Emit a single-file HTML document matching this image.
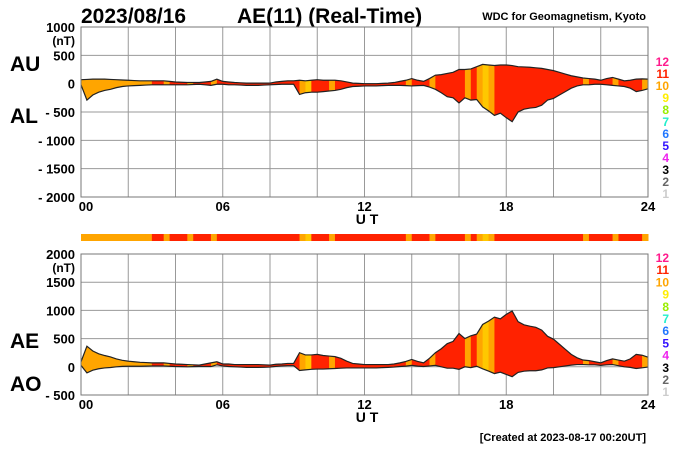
<!DOCTYPE html>
<html><head><meta charset="utf-8"><style>
body{margin:0;background:#fff}
svg{display:block;font-family:"Liberation Sans",Arial,sans-serif;font-weight:bold}
</style></head><body>
<svg id="c" width="700" height="450" viewBox="0 0 700 450">
<text x="81" y="23" font-size="21">2023/08/16</text>
<text x="237" y="23" font-size="21">AE(11) (Real-Time)</text>
<text x="646" y="20" font-size="11" text-anchor="end">WDC for Geomagnetism, Kyoto</text>
<text x="10" y="71" font-size="21">AU</text>
<text x="10" y="123" font-size="21">AL</text>
<text x="10" y="348" font-size="21">AE</text>
<text x="10" y="391" font-size="21">AO</text>
<text x="646" y="441" font-size="11" text-anchor="end">[Created at 2023-08-17 00:20UT]</text>
<g id="g"></g>
</svg>
<script>
const hours=Array.from({length:97},(_,i)=>i/4);
const auValues=[70,75,80,80,80,75,70,65,60,55,50,50,50,50,50,40,30,25,20,20,20,30,40,80,40,30,20,15,10,10,10,10,10,30,40,50,50,60,50,60,70,60,60,60,50,30,10,5,0,0,0,5,10,20,40,60,90,60,40,90,150,160,180,200,250,250,260,300,340,330,320,330,330,320,300,295,290,280,270,250,230,200,170,140,120,100,90,80,60,90,110,80,50,60,80,85,80];
const alValues=[-20,-290,-200,-150,-120,-100,-70,-50,-40,-35,-30,-25,-20,-20,-20,-20,-20,-20,-20,-15,-10,-20,-30,-10,-10,-20,-20,-25,-30,-30,-30,-25,-20,-15,-10,-10,-10,-190,-160,-150,-150,-140,-130,-120,-100,-70,-50,-45,-40,-40,-40,-35,-30,-30,-30,-35,-40,-35,-30,-60,-100,-160,-230,-250,-340,-250,-290,-280,-410,-480,-560,-520,-600,-670,-500,-450,-430,-420,-380,-290,-260,-200,-140,-80,-40,-20,-20,-10,-10,-20,-30,-40,-50,-80,-140,-120,-90];
const stations=[10,10,10,10,10,10,10,10,10,10,10,10,11,11,10,11,11,11,10,11,11,11,10,11,11,11,11,11,11,11,11,11,11,11,11,11,11,10,9,11,11,11,10,11,11,11,11,11,11,11,11,11,11,11,11,10,11,11,11,10,11,11,11,11,11,10,11,10,9,10,11,11,11,11,11,11,11,11,11,11,11,11,11,11,11,10,11,11,11,11,10,11,11,11,11,10];
const topTicks=[1000,500,0,-500,-1000,-1500,-2000];
const botTicks=[2000,1500,1000,500,0,-500];
const xTicks=[0,6,12,18,24];
const legendNums=[12,11,10,9,8,7,6,5,4,3,2,1];
const legendCols=["#ff1a8c","#ff2200","#ffa500","#ffee00","#99ee00","#22eecc","#2277ff","#3311ff","#ee22ee","#000","#666","#ccc"];
const stColor={9:"#ffc800",10:"#ffa500",11:"#ff2200"};
const NS="http://www.w3.org/2000/svg";
const G=document.getElementById('g');
const X0=81,X1=648;
const xs=h=>X0+(X1-X0)*h/24;
function mk(t,a,p){const e=document.createElementNS(NS,t);for(const k in a)e.setAttribute(k,a[k]);(p||G).appendChild(e);return e;}
function panel(id,yTop,yBot,vmax,vmin,ticks,upper,lower,names){
  const ys=v=>yTop+(vmax-v)*(yBot-yTop)/(vmax-vmin);
  const pg=mk('g',{});
  
  
  for(let h=0;h<=24;h+=2){const l=mk('line',{x1:xs(h),x2:xs(h),y1:yTop,y2:yBot,stroke:'#999','stroke-width':1},pg);
    }
  ticks.forEach((t,i)=>{const l=mk('line',{x1:X0,x2:X1,y1:ys(t),y2:ys(t),stroke:'#999','stroke-width':1},pg);
    
    const tx=mk('text',{x:75,y:ys(t)+5,'font-size':13,'text-anchor':'end'},pg);
    tx.textContent=t<0?'- '+(-t):String(t);
    
    if(i===0){const u=mk('text',{x:75,y:ys(t)+18,'font-size':12,'text-anchor':'end'},pg);u.textContent='(nT)';
      }
  });
  xTicks.forEach(h=>{const tx=mk('text',{x:xs(h)+(h===0?5:0),y:yBot+14,'font-size':13,'text-anchor':'middle'},pg);
    tx.textContent=String(h).padStart(2,'0');});
  const ut=mk('text',{x:367,y:yBot+27,'font-size':14,'text-anchor':'middle'},pg);ut.textContent='U T';
  
  const up=hours.map((h,i)=>xs(h)+','+ys(upper[i]));
  const lo=hours.map((h,i)=>xs(h)+','+ys(lower[i])).reverse();
  const cp=mk('clipPath',{id:id+'clip'},pg);mk('polygon',{points:up.concat(lo).join(' ')},cp);
  const fg=mk('g',{'clip-path':'url(#'+id+'clip)'},pg);
  stations.forEach((s,i)=>{const r=mk('rect',{x:xs(hours[i]),y:yTop,width:xs(hours[i+1])-xs(hours[i])+0.5,height:yBot-yTop,fill:stColor[s]},fg);
    });
  const l1=mk('polyline',{points:up.join(' '),fill:'none',stroke:'#222','stroke-width':1.2},pg);
  
  const l2=mk('polyline',{points:hours.map((h,i)=>xs(h)+','+ys(lower[i])).join(' '),fill:'none',stroke:'#222','stroke-width':1.2},pg);
  
  const fr=mk('rect',{x:X0,y:yTop,width:X1-X0,height:yBot-yTop,fill:'none',stroke:'#777','stroke-width':1},pg);
  
}
panel('top',27,197,1000,-2000,topTicks,auValues,alValues,['au','al']);
const aeValues=auValues.map((u,i)=>u-alValues[i]);
const aoValues=auValues.map((u,i)=>(u+alValues[i])/2);
panel('bottom',254,395,2000,-500,botTicks,aeValues,aoValues,['ae','ao']);
stations.forEach((s,i)=>{const r=mk('rect',{x:xs(hours[i]),y:234,width:xs(hours[i+1])-xs(hours[i])+0.5,height:7,fill:stColor[s]});
  });
[[66,12],[262,12.2]].forEach(([y0,st])=>{legendNums.forEach((n,i)=>{const t=mk('text',{x:669,y:y0+i*st,'font-size':12,'text-anchor':'end',fill:legendCols[i]});
  t.textContent=n;});});
</script>
</body></html>
